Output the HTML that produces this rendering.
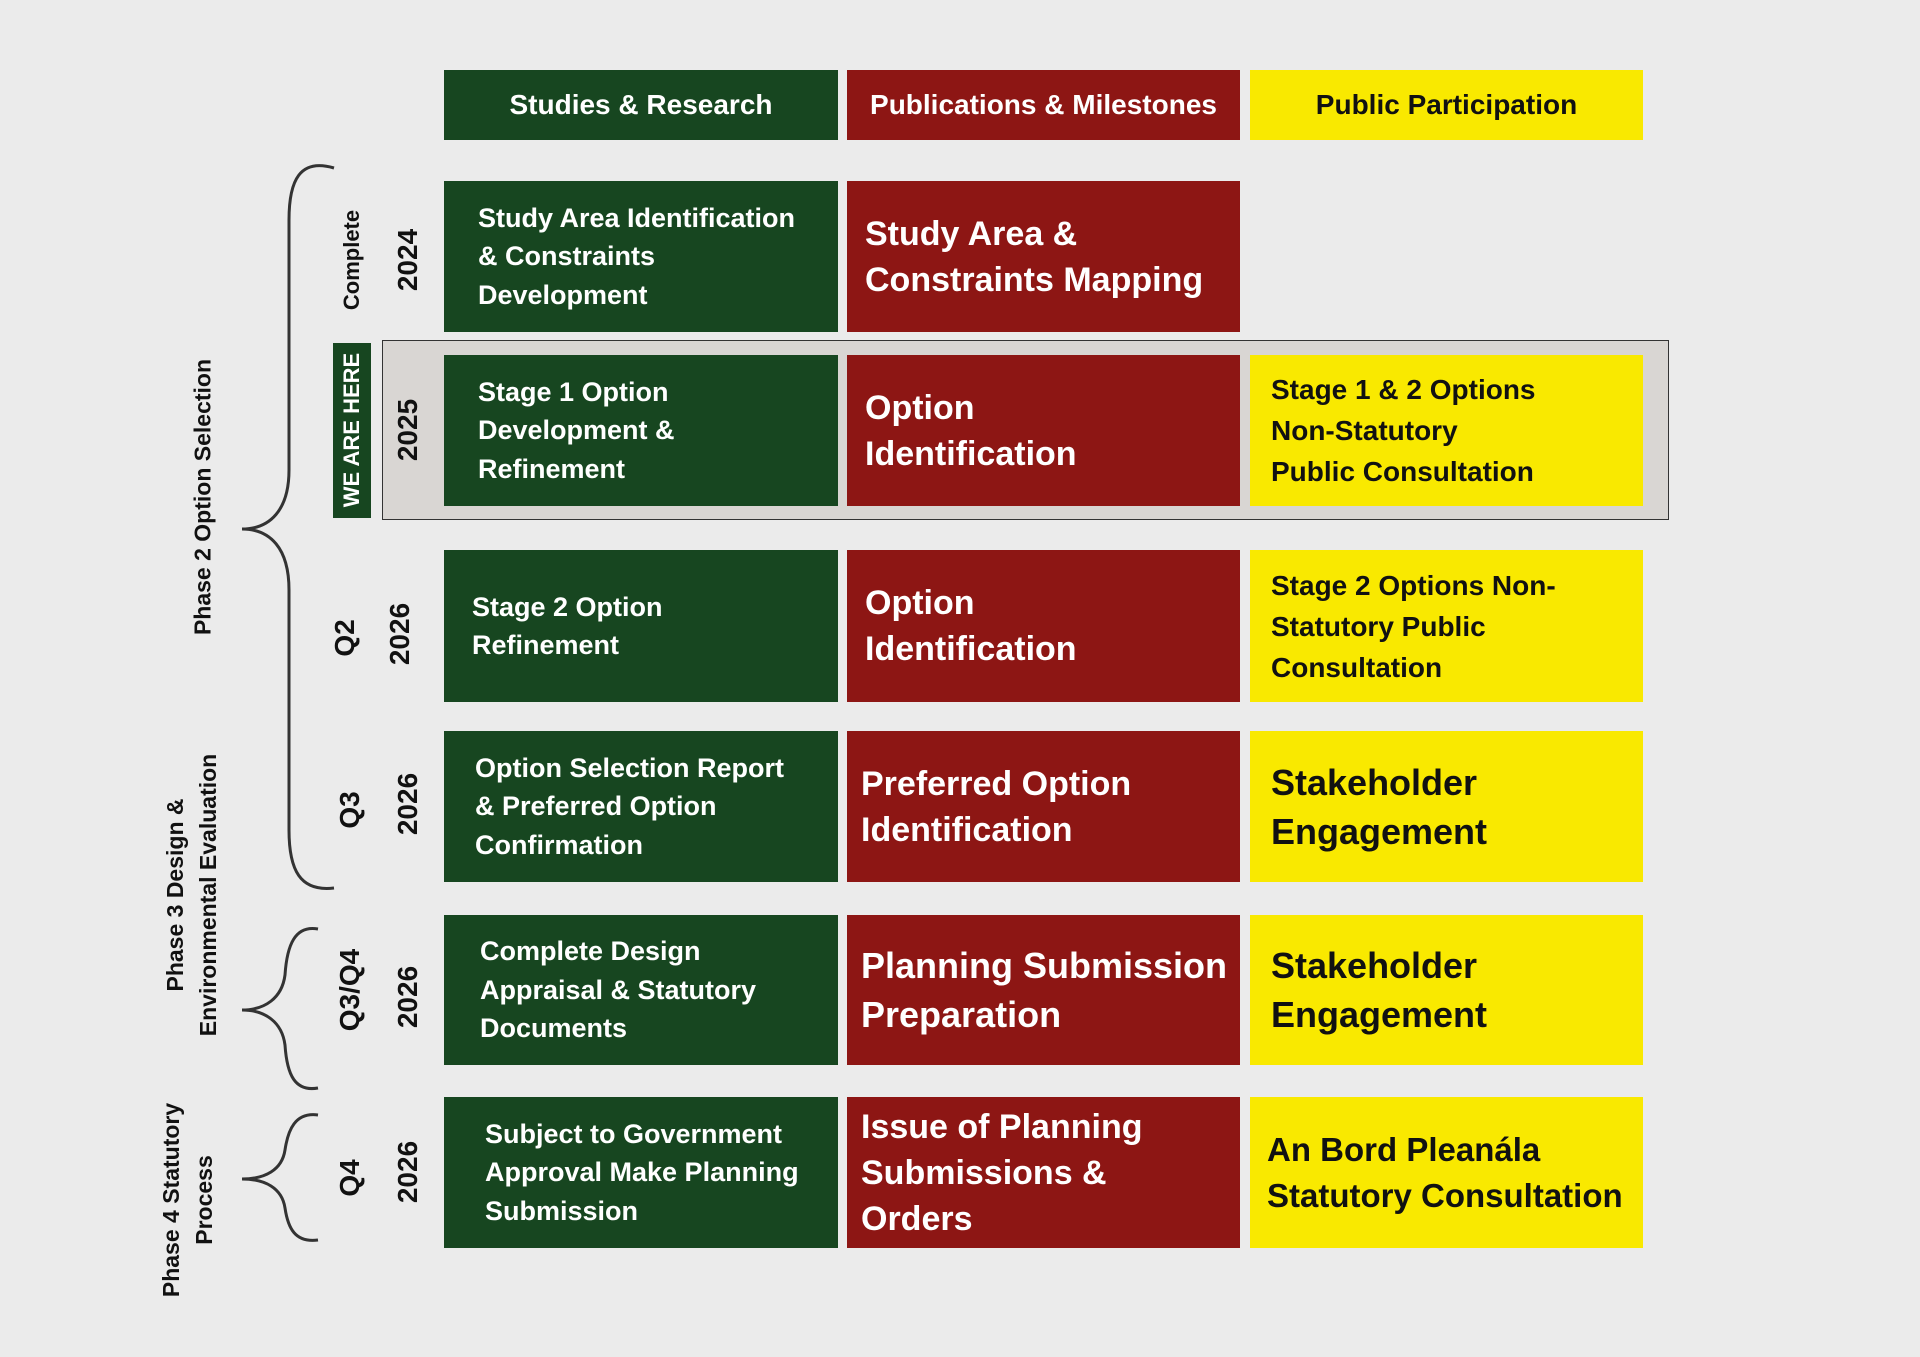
<!DOCTYPE html>
<html><head><meta charset="utf-8"><style>
body{margin:0;width:1920px;height:1357px;background:#ebebeb;position:relative;overflow:hidden;font-family:"Liberation Sans",Arial,sans-serif;font-weight:bold}
.b{position:absolute;display:flex;align-items:center;box-sizing:border-box}
.g{background:#174620;color:#fff;font-size:27px;line-height:38.5px;padding-left:34px;left:444px;width:394px}
.r{background:#8d1614;color:#fff;font-size:34px;line-height:46px;padding-left:18px;left:847px;width:393px}
.y{background:#f9e900;color:#111;font-size:28px;line-height:41px;padding-left:21px;left:1250px;width:393px}
.h{position:absolute;top:70px;height:70px;display:flex;align-items:center;justify-content:center;font-size:28px}
.rot{position:absolute;transform:translate(-50%,-50%) rotate(-90deg);white-space:nowrap;color:#111;text-align:center}
</style></head><body>
<div class="h" style="left:444px;width:394px;background:#174620;color:#fff">Studies &amp; Research</div>
<div class="h" style="left:847px;width:393px;background:#8d1614;color:#fff">Publications &amp; Milestones</div>
<div class="h" style="left:1250px;width:393px;background:#f9e900;color:#111">Public Participation</div>

<div style="position:absolute;left:382px;top:340px;width:1287px;height:180px;background:#d9d6d3;border:1.5px solid #333;box-sizing:border-box"></div>
<div style="position:absolute;left:333px;top:343px;width:38px;height:175px;background:#174620"></div>
<div class="rot" style="left:352px;top:430px;color:#fff;font-size:22px">WE ARE HERE</div>

<div class="b g" style="top:181px;height:151px">Study Area Identification<br>&amp; Constraints<br>Development</div>
<div class="b r" style="top:181px;height:151px">Study Area &amp;<br>Constraints Mapping</div>

<div class="b g" style="top:355px;height:151px">Stage 1 Option<br>Development &amp;<br>Refinement</div>
<div class="b r" style="top:355px;height:151px">Option<br>Identification</div>
<div class="b y" style="top:355px;height:151px">Stage 1 &amp; 2 Options<br>Non-Statutory<br>Public Consultation</div>

<div class="b g" style="top:550px;height:152px;padding-left:28px">Stage 2 Option<br>Refinement</div>
<div class="b r" style="top:550px;height:152px">Option<br>Identification</div>
<div class="b y" style="top:550px;height:152px">Stage 2 Options Non-<br>Statutory Public<br>Consultation</div>

<div class="b g" style="top:731px;height:151px;padding-left:31px">Option Selection Report<br>&amp; Preferred Option<br>Confirmation</div>
<div class="b r" style="top:731px;height:151px;padding-left:14px">Preferred Option<br>Identification</div>
<div class="b y" style="top:731px;height:151px;font-size:36px;line-height:49px">Stakeholder<br>Engagement</div>

<div class="b g" style="top:915px;height:150px;padding-left:36px">Complete Design<br>Appraisal &amp; Statutory<br>Documents</div>
<div class="b r" style="top:915px;height:150px;padding-left:14px;font-size:36px;line-height:49px">Planning Submission<br>Preparation</div>
<div class="b y" style="top:915px;height:150px;font-size:36px;line-height:49px">Stakeholder<br>Engagement</div>

<div class="b g" style="top:1097px;height:151px;padding-left:41px">Subject to Government<br>Approval Make Planning<br>Submission</div>
<div class="b r" style="top:1097px;height:151px;padding-left:14px">Issue of Planning<br>Submissions &amp;<br>Orders</div>
<div class="b y" style="top:1097px;height:151px;padding-left:17px;font-size:33px;line-height:46px">An Bord Pleanála<br>Statutory Consultation</div>

<div class="rot" style="left:352px;top:260px;font-size:22px">Complete</div>
<div class="rot" style="left:408px;top:260px;font-size:28px">2024</div>
<div class="rot" style="left:408px;top:430px;font-size:28px">2025</div>
<div class="rot" style="left:345px;top:638px;font-size:28px">Q2</div>
<div class="rot" style="left:400px;top:634px;font-size:28px">2026</div>
<div class="rot" style="left:350px;top:810px;font-size:28px">Q3</div>
<div class="rot" style="left:408px;top:804px;font-size:28px">2026</div>
<div class="rot" style="left:350px;top:990px;font-size:28px">Q3/Q4</div>
<div class="rot" style="left:408px;top:997px;font-size:28px">2026</div>
<div class="rot" style="left:350px;top:1178px;font-size:28px">Q4</div>
<div class="rot" style="left:408px;top:1172px;font-size:28px">2026</div>

<div class="rot" style="left:203px;top:497px;font-size:23px">Phase 2 Option Selection</div>
<div class="rot" style="left:192px;top:895px;font-size:23px;line-height:33px">Phase 3 Design &amp;<br>Environmental Evaluation</div>
<div class="rot" style="left:188px;top:1200px;font-size:23px;line-height:33px">Phase 4 Statutory<br>Process</div>

<svg style="position:absolute;left:0;top:0" width="1920" height="1357">
<g fill="none" stroke="#333" stroke-width="3">
<path d="M334,168 C300,158 289,180 289,220 L289,470 C289,510 270,529 242,529 C270,529 289,548 289,590 L289,830 C289,870 300,892 334,888"/>
<path d="M318,929 C295,925 287,945 285,975 C282,998 265,1010 242,1010 C265,1010 282,1022 285,1045 C287,1075 295,1092 318,1088"/>
<path d="M318,1115 C295,1112 288,1130 285,1150 C282,1170 265,1179 242,1179 C265,1179 282,1188 285,1208 C288,1228 295,1243 318,1240"/>
</g></svg>
</body></html>
